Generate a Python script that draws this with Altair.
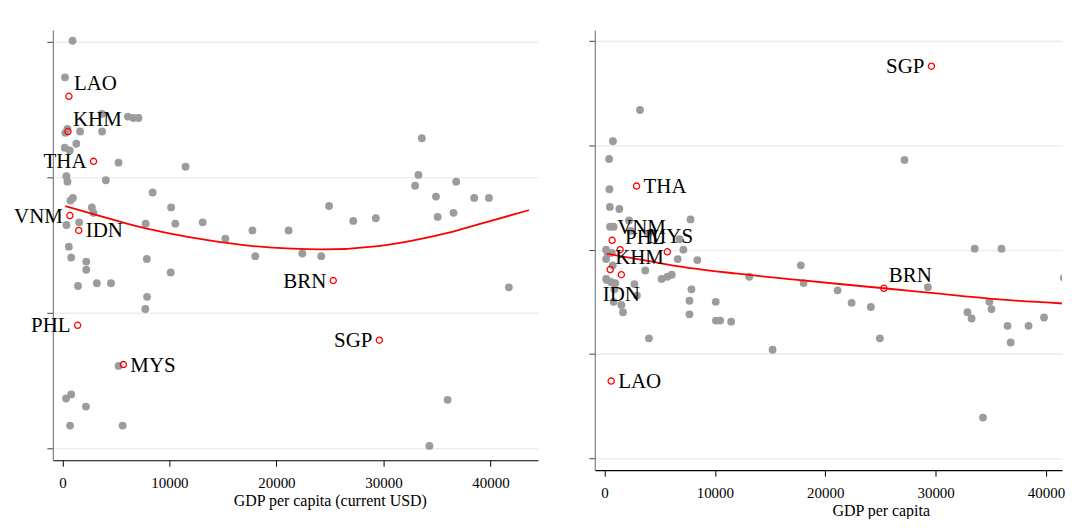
import altair as alt
import pandas as pd

# ---------------- data: left panel (GDP per capita, current USD) ----------------
l_grey_gdp = [950, 240, 270, 470, 1650, 3710, 3700, 6120, 6630, 7110, 1300, 220, 690, 5250,
              11510, 370, 470, 4060, 8430, 750, 980, 10160, 2750, 2900, 380, 1560, 7780, 10550,
              13110, 15230, 17760, 21140, 24920, 27180, 29290, 33590, 33270, 32960, 34910, 36800,
              35070, 36550, 38480, 39860, 600, 820, 2230, 2230, 7890, 10120, 18020, 22420, 24190,
              1460, 3220, 4540, 7910, 7750, 41720, 5250, 340, 820, 2200, 720, 5630, 36000, 34300]
l_grey_val = [3.01, 2.74, 2.33, 2.36, 2.34, 2.34, 2.47, 2.45, 2.44, 2.44, 2.25, 2.22, 2.20, 2.11,
              2.08, 2.01, 1.97, 1.98, 1.89, 1.83, 1.85, 1.78, 1.78, 1.74, 1.65, 1.67, 1.66, 1.66,
              1.67, 1.55, 1.61, 1.61, 1.79, 1.68, 1.70, 2.29, 2.02, 1.94, 1.86, 1.97, 1.71, 1.74,
              1.85, 1.85, 1.49, 1.41, 1.38, 1.32, 1.40, 1.30, 1.42, 1.44, 1.42, 1.20, 1.22, 1.22,
              1.12, 1.03, 1.19, 0.61, 0.37, 0.40, 0.31, 0.17, 0.17, 0.36, 0.02]

# ---------------- data: right panel (GDP per capita) ----------------
r_grey_gdp = [3220, 770, 420, 27180, 450, 490, 1350, 2230, 7800, 510, 830, 2400, 3930, 6800,
              7150, 33540, 35970, 150, 670, 8420, 6640, 17790, 300, 150, 750, 150, 600, 900,
              3700, 5180, 5700, 6100, 2710, 2940, 7880, 7700, 7700, 10080, 10100, 10480, 11480,
              830, 1530, 1680, 980, 4030, 13120, 15230, 18040, 21120, 22390, 24130, 24950, 29300,
              32880, 33260, 34870, 35060, 36520, 36800, 38420, 39820, 41620, 34290, 220]
r_grey_val = [3.34, 3.04, 2.87, 2.86, 2.58, 2.41, 2.39, 2.28, 2.29, 2.22, 2.22, 2.18, 2.15, 2.10,
              2.00, 2.01, 2.01, 2.00, 1.97, 1.90, 1.91, 1.85, 1.96, 1.91, 1.85, 1.72, 1.69, 1.62,
              1.80, 1.72, 1.74, 1.76, 1.67, 1.56, 1.62, 1.51, 1.38, 1.50, 1.32, 1.32, 1.31,
              1.50, 1.47, 1.40, 1.68, 1.15, 1.74, 1.04, 1.68, 1.61, 1.49, 1.45, 1.15, 1.64,
              1.40, 1.34, 1.50, 1.43, 1.27, 1.11, 1.27, 1.35, 1.73, 0.39, 1.71]

# ---------------- ASEAN members (highlighted) ----------------
asean_iso = ["BRN", "KHM", "IDN", "LAO", "MYS", "PHL", "SGP", "THA", "VNM"]
asean_gdp = [25310, 520, 1530, 610, 5700, 1420, 29620, 2910, 700]
asean_left_val = [1.24, 2.34, 1.61, 2.60, 0.62, 0.91, 0.80, 2.12, 1.72]
asean_right_val = [1.63, 1.81, 1.76, 0.74, 1.98, 2.00, 3.76, 2.61, 2.09]
# marker-label clock positions
asean_left_pos = ["W", "NE", "E", "NE", "E", "W", "W", "W", "W"]
asean_right_pos = ["NE", "NE", "S", "E", "N", "NE", "W", "E", "NE"]

# ---------------- fitted lines ----------------
l_fit_gdp = [270, 3800, 7010, 10220, 13430, 17760, 21460, 24190, 29490, 32700, 35910, 39120, 43610]
l_fit_val = [1.79, 1.71, 1.64, 1.585, 1.54, 1.495, 1.475, 1.47, 1.495, 1.535, 1.59, 1.66, 1.76]
r_fit_gdp = [230, 3010, 6120, 12030, 17480, 25320, 30080, 34870, 42220]
r_fit_val = [1.96, 1.91, 1.85, 1.77, 1.71, 1.63, 1.58, 1.53, 1.48]

X_TICKS = [0, 10000, 20000, 30000, 40000]
SERIF = "Liberation Serif"

label_styles = {
    "E": dict(align="left", dx=7, dy=1),
    "W": dict(align="right", dx=-7, dy=1),
    "NE": dict(align="left", dx=5, dy=-12),
    "N": dict(align="center", dx=3, dy=-15),
    "S": dict(align="center", dx=0, dy=20),
}


def panel(grey_df, asean_df, fit_df, xdom, ydom, yticks, w, h, title, title_x, clip_pts):
    xs = alt.Scale(domain=xdom, nice=False, zero=False)
    ys = alt.Scale(domain=ydom, nice=False, zero=False)
    xaxis = alt.Axis(values=X_TICKS, format="d", title=title, titleX=title_x,
                     titleAlign="center", grid=False, domainColor="#000000",
                     tickColor="#000000", tickSize=6, labelPadding=9, titlePadding=2,
                     domainWidth=1.2)
    yaxis = alt.Axis(values=yticks, labels=False, title=None, grid=True,
                     gridColor="#e8eff1", gridWidth=1.6, domainColor="#808080",
                     tickColor="#404040", tickSize=6, domainWidth=1.2)
    ex = alt.X("gdp:Q", scale=xs, axis=xaxis)
    ey = alt.Y("val:Q", scale=ys, axis=yaxis)

    grey = alt.Chart(grey_df).mark_circle(size=62, color="#9c9c9c", opacity=1,
                                          clip=clip_pts).encode(x=ex, y=ey)
    fit = alt.Chart(fit_df).mark_line(color="#ff0000", strokeWidth=1.8, clip=True,
                                      interpolate="monotone").encode(x=ex, y=ey)
    red = alt.Chart(asean_df).mark_point(shape="circle", size=38, color="#ff0000",
                                         filled=False, strokeWidth=1.3, opacity=1).encode(
        x=ex, y=ey)
    layers = [grey, fit, red]
    for pos, st in label_styles.items():
        layers.append(
            alt.Chart(asean_df).transform_filter(alt.datum.pos == pos).mark_text(
                baseline="middle", font=SERIF, fontSize=21, color="#000000", **st
            ).encode(x=ex, y=ey, text="iso:N")
        )
    return alt.layer(*layers).properties(width=w, height=h)


left_grey = pd.DataFrame({"gdp": l_grey_gdp, "val": l_grey_val})
right_grey = pd.DataFrame({"gdp": r_grey_gdp, "val": r_grey_val})
left_asean = pd.DataFrame({"iso": asean_iso, "gdp": asean_gdp, "val": asean_left_val,
                           "pos": asean_left_pos})
right_asean = pd.DataFrame({"iso": asean_iso, "gdp": asean_gdp, "val": asean_right_val,
                            "pos": asean_right_pos})
left_fit = pd.DataFrame({"gdp": l_fit_gdp, "val": l_fit_val})
right_fit = pd.DataFrame({"gdp": r_fit_gdp, "val": r_fit_val})

left = panel(left_grey, left_asean, left_fit, [-894, 44445], [-0.086, 3.09], [0, 1, 2, 3],
             487, 432, "GDP per capita (current USD)", 278, False)
right = panel(right_grey, right_asean, right_fit, [-875, 41450], [-0.115, 4.108],
              [0, 1, 2, 3, 4], 469, 442, "GDP per capita", 287, True)

chart = alt.hconcat(left, right, spacing=57, bounds="flush").properties(
    padding={"left": 6, "top": 21, "right": 3, "bottom": 0}
).configure_view(strokeWidth=0).configure_axis(
    labelFont=SERIF, titleFont=SERIF, labelFontSize=15, titleFontSize=16,
    titleFontWeight="normal", labelColor="#000000", titleColor="#000000"
)

chart.save("out.html", embed_options={"renderer": "svg", "actions": False})
